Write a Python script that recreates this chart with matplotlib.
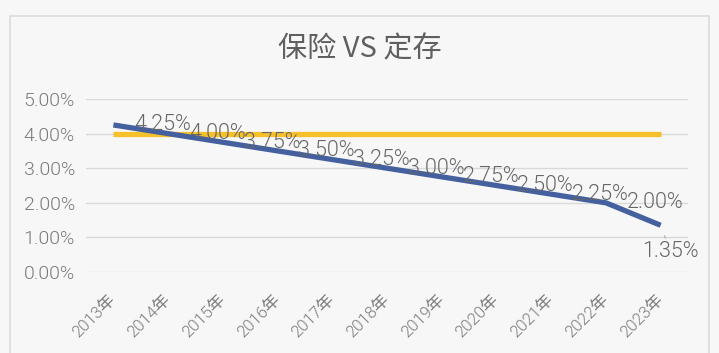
import matplotlib
matplotlib.use('Agg')
import matplotlib.pyplot as plt
from matplotlib.patches import Rectangle

plt.rcParams['font.family'] = ['Roboto', 'Noto Sans CJK SC', 'DejaVu Sans']

# ── Data
years     = ['2013年', '2014年', '2015年', '2016年', '2017年', '2018年',
             '2019年', '2020年', '2021年', '2022年', '2023年']
insurance = [4.25, 4.00, 3.75, 3.50, 3.25, 3.00, 2.75, 2.50, 2.25, 2.00, 1.35]
deposit   = [4.00] * 11
yticks    = [0, 1, 2, 3, 4, 5]

BG = '#f7f7f7'
W = 300  # light stroke like the original
fig = plt.figure(figsize=(7.19, 3.53), dpi=100, facecolor=BG)

# outer chart frame
fig.patches.append(Rectangle((10/719, -0.1), 699/719, 1 - 16/353 + 0.1,
                             transform=fig.transFigure, fill=False,
                             edgecolor='#dcdcdc', linewidth=1.2))

ax = fig.add_axes([86/719, 1 - 272/353, 602/719, 173/353])
ax.set_facecolor(BG)
x = list(range(len(years)))

ax.plot(x, deposit, color='#f5c02a', linewidth=3.8, solid_capstyle='butt', zorder=3)
ax.plot(x, insurance, color='#44609e', linewidth=3.8, solid_capstyle='butt', zorder=4)

ax.set_xlim(-0.5, len(years) - 0.5)
ax.set_ylim(0, 5)
ax.set_yticks(yticks)
ax.set_yticklabels([f"{v:.2f}%" for v in yticks], fontsize=14,
                   color='#7a7a7a', fontweight=W)
ax.set_xticks(x)
ax.set_xticklabels(years, rotation=45, ha='right', va='center',
                   rotation_mode='anchor', fontsize=12, color='#7a7a7a',
                   fontweight=W)
ax.tick_params(axis='y', length=0, pad=8)
ax.tick_params(axis='x', length=0, pad=18)
ax.grid(axis='y', color='#d9d9d9', linewidth=1)
ax.set_axisbelow(True)
for s in ax.spines.values():
    s.set_visible(False)

# data labels
for i, v in enumerate(insurance[:-1]):
    ax.annotate(f"{v:.2f}%", (i, v), xytext=(15, 0), textcoords='offset points',
                ha='left', va='center', fontsize=15.5, color='#666666',
                fontweight=W, zorder=5)
i, v = len(insurance) - 1, insurance[-1]
ax.annotate(f"{v:.2f}%", (i, v), xytext=(7, -19), textcoords='offset points',
            ha='center', va='center', fontsize=15.5, color='#666666',
            fontweight=W, zorder=5,
            arrowprops=dict(arrowstyle='-', color='#b0b0b0', linewidth=0.8,
                            shrinkA=0, shrinkB=8))

fig.text(360/719, 1 - 49/353, "保险 VS 定存", ha='center', va='center',
         fontsize=21, color='#5f5f5f', family=['Noto Sans CJK SC'])

plt.savefig('out.png', dpi=100, facecolor=BG)
